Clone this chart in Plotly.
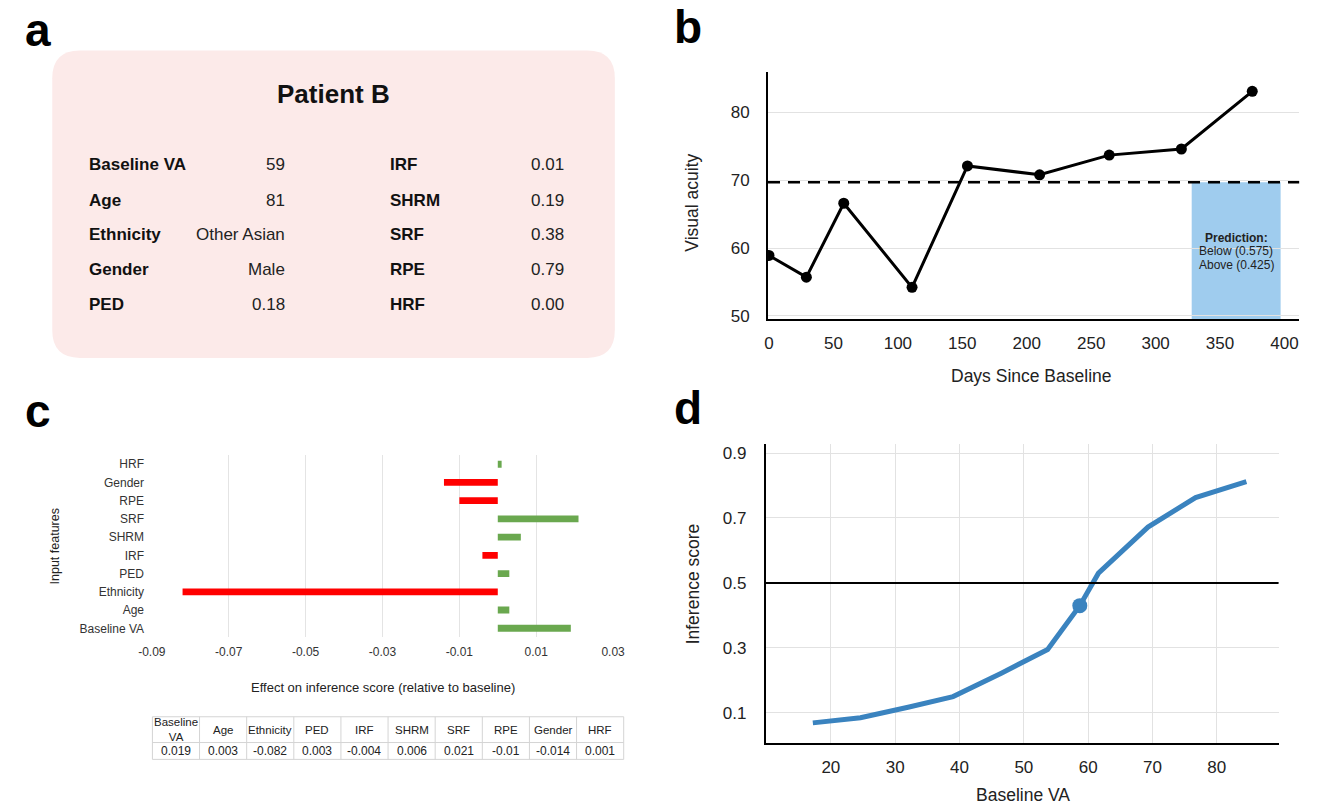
import plotly.graph_objects as go

W, H = 1320, 811
FONT = "Liberation Sans, Arial, Helvetica, sans-serif"

# ---------------- data ----------------
# Panel a : patient summary
patient_title = "Patient B"
left_labels = ["Baseline VA", "Age", "Ethnicity", "Gender", "PED"]
left_values = ["59", "81", "Other Asian", "Male", "0.18"]
right_labels = ["IRF", "SHRM", "SRF", "RPE", "HRF"]
right_values = ["0.01", "0.19", "0.38", "0.79", "0.00"]

# Panel b : visual acuity history
days = [0, 29, 58, 111, 154, 210, 264, 320, 375]
va = [58.9, 55.7, 66.6, 54.2, 72.1, 70.8, 73.7, 74.6, 83.1]
va_threshold = 69.7
pred_window = [328, 397]
pred_lines = ["<b>Prediction:</b>", "Below (0.575)", "Above (0.425)"]
b_xticks = [0, 50, 100, 150, 200, 250, 300, 350, 400]
b_yticks = [50, 60, 70, 80]

# Panel c : feature effects
features = ["Baseline VA", "Age", "Ethnicity", "PED", "IRF", "SHRM", "SRF", "RPE", "Gender", "HRF"]
effects = [0.019, 0.003, -0.082, 0.003, -0.004, 0.006, 0.021, -0.01, -0.014, 0.001]
effect_ticks = [-0.09, -0.07, -0.05, -0.03, -0.01, 0.01, 0.03]

# Panel d : inference score vs baseline VA
curve_va = [17.2, 24.6, 32.0, 39.0, 46.5, 53.7, 58.7, 61.6, 69.3, 76.7, 84.6]
curve_score = [0.069, 0.085, 0.117, 0.150, 0.222, 0.295, 0.430, 0.530, 0.672, 0.763, 0.812]
patient_va = 58.7
patient_score = 0.43
score_threshold = 0.5
d_xticks = [20, 30, 40, 50, 60, 70, 80]
d_yticks = [0.1, 0.3, 0.5, 0.7, 0.9]


def px(x):
    return x / W


def py(y):
    return 1 - y / H


fig = go.Figure()

# ---- panel b ----
fig.add_trace(go.Scatter(x=days, y=va, mode="lines+markers",
                         line=dict(color="black", width=3),
                         marker=dict(color="black", size=11),
                         xaxis="x", yaxis="y", hoverinfo="skip"))

# ---- panel c ----
fig.add_trace(go.Bar(x=effects, y=features, orientation="h",
                     marker=dict(color=["#FF0000" if v < 0 else "#6AA84F" for v in effects], line_width=0),
                     xaxis="x2", yaxis="y2", hoverinfo="skip"))

# ---- panel d ----
fig.add_trace(go.Scatter(x=curve_va, y=curve_score, mode="lines",
                         line=dict(color="#3A83BF", width=5),
                         xaxis="x3", yaxis="y3", hoverinfo="skip"))
fig.add_trace(go.Scatter(x=[patient_va], y=[patient_score], mode="markers",
                         marker=dict(color="#3A83BF", size=15),
                         xaxis="x3", yaxis="y3", hoverinfo="skip"))

tickfont = dict(family=FONT, size=17, color="#222")
smallfont = dict(family=FONT, size=12, color="#333")

b_yrange = [49.5, 85.9]

fig.update_layout(
    width=W, height=H, margin=dict(l=0, r=0, t=0, b=0),
    paper_bgcolor="white", plot_bgcolor="white", showlegend=False,
    font=dict(family=FONT, color="#222"),
    bargap=0.62,
    xaxis=dict(domain=[px(769), px(1310)], anchor="y", range=[-0.76, 411.4],
               tickvals=b_xticks, showgrid=False, zeroline=False,
               showline=True, linecolor="black", linewidth=2,
               ticks="", ticklabelstandoff=7, tickfont=tickfont),
    yaxis=dict(domain=[py(322), py(73)], anchor="x", range=b_yrange,
               tickvals=b_yticks, showgrid=True, gridcolor="#e2e2e2", gridwidth=1,
               zeroline=False, showline=True, linecolor="black", linewidth=2,
               ticks="", ticklabelstandoff=13, tickfont=tickfont),
    xaxis2=dict(domain=[px(140.6), px(612)], anchor="y2", range=[-0.0902, 0.0302],
                tickvals=effect_ticks, ticktext=[f"{t:g}" for t in effect_ticks],
                showgrid=True, gridcolor="#e4e4e4", gridwidth=1, zeroline=False,
                showline=False, ticks="", ticklabelstandoff=6, tickfont=smallfont),
    yaxis2=dict(domain=[py(643), py(459)], anchor="x2", type="category",
                categoryorder="array", categoryarray=features,
                showgrid=False, zeroline=False, showline=False,
                ticks="", ticklabelstandoff=6, tickfont=smallfont),
    xaxis3=dict(domain=[px(766.7), px(1289)], anchor="y3", range=[9.88, 89.6],
                tickvals=d_xticks, showgrid=True, gridcolor="#e2e2e2", gridwidth=1.2,
                zeroline=False, showline=True, linecolor="black", linewidth=2,
                ticks="", ticklabelstandoff=8, tickfont=tickfont),
    yaxis3=dict(domain=[py(749.5), py(448)], anchor="x3", range=[0.0069, 0.9275],
                tickvals=d_yticks, showgrid=True, gridcolor="#e2e2e2", gridwidth=1.2,
                zeroline=False, showline=True, linecolor="black", linewidth=2,
                ticks="", ticklabelstandoff=14, tickfont=tickfont),
)

shapes = []
ann = []


def text(x, y, t, size, bold=False, xanchor="center", yanchor="middle", angle=0, color="#222"):
    ann.append(dict(x=px(x), y=py(y), xref="paper", yref="paper", text=(f"<b>{t}</b>" if bold else t),
                    showarrow=False, xanchor=xanchor, yanchor=yanchor, textangle=angle,
                    font=dict(family=FONT, size=size, color=color)))


def hline(x0, x1, y, color="#d4d4d4", width=1):
    shapes.append(dict(type="line", xref="paper", yref="paper", x0=px(x0), x1=px(x1),
                       y0=py(y), y1=py(y), line=dict(color=color, width=width)))


def vline(x, y0, y1, color="#d4d4d4", width=1):
    shapes.append(dict(type="line", xref="paper", yref="paper", x0=px(x), x1=px(x),
                       y0=py(y0), y1=py(y1), line=dict(color=color, width=width)))


# panel a rounded box
x0, x1, y0, y1, r = 40, 613, 51, 361, 28


def P(x, y):
    return f"{px(x):.5f},{py(y):.5f}"


path = (f"M{P(x0 + r, y0)} L{P(x1 - r, y0)} Q{P(x1, y0)} {P(x1, y0 + r)} "
        f"L{P(x1, y1 - r)} Q{P(x1, y1)} {P(x1 - r, y1)} L{P(x0 + r, y1)} "
        f"Q{P(x0, y1)} {P(x0, y1 - r)} L{P(x0, y0 + r)} Q{P(x0, y0)} {P(x0 + r, y0)} Z")
shapes.append(dict(type="path", path=path, xref="paper", yref="paper",
                   fillcolor="#FCEAE9", line=dict(width=0), layer="below"))
# panel b prediction box and threshold
shapes.append(dict(type="rect", xref="x", yref="y", x0=pred_window[0], x1=pred_window[1],
                   y0=b_yrange[0], y1=va_threshold, fillcolor="#9FCCEE",
                   line=dict(width=0), layer="below"))
shapes.append(dict(type="line", xref="x domain", yref="y", x0=0, x1=1,
                   y0=va_threshold, y1=va_threshold,
                   line=dict(color="black", width=2.5, dash="12px,8px")))
# panel d threshold
shapes.append(dict(type="line", xref="x3 domain", yref="y3", x0=0, x1=1,
                   y0=score_threshold, y1=score_threshold,
                   line=dict(color="black", width=2)))

# panel c table (drawn from the features / effects lists)
t_left, t_right, t_top, t_mid, t_bot = 142, 622, 723, 749, 766
col_w = (t_right - t_left) / len(features)
hline(t_left, t_right, t_top)
hline(t_left, t_right, t_mid)
hline(t_left, t_right, t_bot)
for i in range(len(features) + 1):
    vline(t_left + i * col_w, t_top, t_bot)
for i, (name, val) in enumerate(zip(features, effects)):
    cx = t_left + (i + 0.5) * col_w
    text(cx, 736, name.replace(" ", "<br>"), 11.5, color="#222")
    text(cx, 757.5, f"{val:g}", 12, color="#222")

fig.update_layout(shapes=shapes)

# panel letters
for letter, (lx, ly) in zip("abcd", [(25, 30), (687, 27), (25, 415), (687, 412)]):
    text(lx, ly, letter, 46, bold=True, color="black")

# panel a
text(326, 95, patient_title, 26, bold=True, color="#111")
rows_y = [166, 202, 237, 272, 307]
for yy, lab, val in zip(rows_y, left_labels, left_values):
    text(75, yy, lab, 17, bold=True, xanchor="left", color="#111")
    text(279, yy, val, 17, xanchor="right", color="#222")
for yy, lab, val in zip(rows_y, right_labels, right_values):
    text(382, yy, lab, 17, bold=True, xanchor="left", color="#111")
    text(563, yy, val, 17, xanchor="right", color="#222")

# panel b
text(692, 204, "Visual acuity", 17.5, angle=-90)
text(1037, 379, "Days Since Baseline", 17.5)
for yy, t in zip([240, 253.5, 267], pred_lines):
    text(1246, yy, t, 12, color="#222")

# panel c
text(43, 551, "Input features", 12.5, angle=-90)
text(377, 693, "Effect on inference score (relative to baseline)", 13)

# panel d
text(692, 589, "Inference score", 17.5, angle=-90)
text(1029, 802, "Baseline VA", 17.5)

fig.update_layout(annotations=ann)

fig.write_html("out.html", config={"displayModeBar": False},
               post_script="document.body.style.margin='0px';")
